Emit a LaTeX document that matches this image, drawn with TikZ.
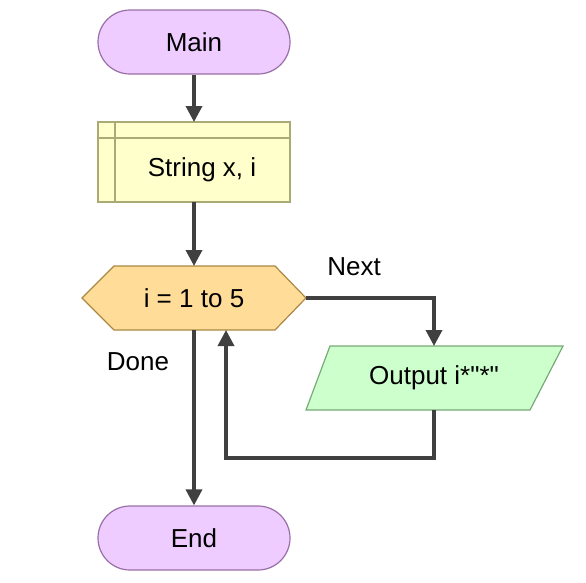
\documentclass[tikz,border=0pt]{standalone}
\usepackage{fontspec}
\setmainfont{Liberation Sans}[Ligatures=TeXOff]
\usetikzlibrary{shapes.geometric,shapes.misc,arrows.meta}
\definecolor{termfill}{HTML}{EECCFF}
\definecolor{termdraw}{HTML}{9A6FA8}
\definecolor{declfill}{HTML}{FFFFCC}
\definecolor{decldraw}{HTML}{AAAA77}
\definecolor{loopfill}{HTML}{FFDD99}
\definecolor{loopdraw}{HTML}{AA8844}
\definecolor{outfill}{HTML}{CCFFCC}
\definecolor{outdraw}{HTML}{77AA77}
\definecolor{linecol}{HTML}{404040}
\begin{document}
\begin{tikzpicture}[x=1pt,y=-1pt,
  font=\fontsize{26pt}{30pt}\selectfont,
  term/.style={rounded rectangle, minimum width=192pt, minimum height=64pt, fill=termfill, draw=termdraw, line width=1.2pt, inner sep=0pt, font=\fontsize{26pt}{30pt}\selectfont},
  flow/.style={draw=linecol, line width=3.5pt, -{Triangle[length=16pt,width=16pt]}},
  lbl/.style={inner sep=0pt, font=\fontsize{26pt}{30pt}\selectfont}
]
\useasboundingbox (0,0) rectangle (586,582);
% Main
\node[term] (main) at (194,42) {Main};
% Declare
\filldraw[fill=declfill, draw=decldraw, line width=1.2pt] (98,122) rectangle (290,202);
\draw[decldraw, line width=1.2pt] (98,138) -- (290,138) (115,122) -- (115,202);
\node[lbl] (decl) at (202,170) {String x, i};
\coordinate (declT) at (194,122);
\coordinate (declB) at (194,202);
% Loop hexagon
\filldraw[fill=loopfill, draw=loopdraw, line width=1.2pt] (82,298) -- (114,266) -- (275,266) -- (306,298) -- (275,330) -- (114,330) -- cycle;
\node[lbl] (loop) at (194,298) {i = 1 to 5};
\coordinate (loopT) at (194,266);
\coordinate (loopR) at (306,298);
\coordinate (loopB) at (194,330);
\coordinate (loopBack) at (226,330);
% Output parallelogram
\filldraw[fill=outfill, draw=outdraw, line width=1.2pt] (330,346) -- (563,346) -- (530,410) -- (306,410) -- cycle;
\node[lbl] (out) at (434,378) {Output i*"*"};
\coordinate (outT) at (434,346);
\coordinate (outB) at (434,410);
% End
\node[term] (end) at (194,538) {End};
% connectors
\draw[flow] (main.south) -- (declT);
\draw[flow] (declB) -- (loopT);
\draw[flow] (loopR) -- (434,298) -- (outT);
\draw[flow] (outB) -- (434,458) -- (226,458) -- (loopBack);
\draw[flow] (loopB) -- (end.north);
% labels
\node[lbl] (next) at (354,267) {Next};
\node[lbl] (done) at (138,362) {Done};
\end{tikzpicture}
\end{document}
